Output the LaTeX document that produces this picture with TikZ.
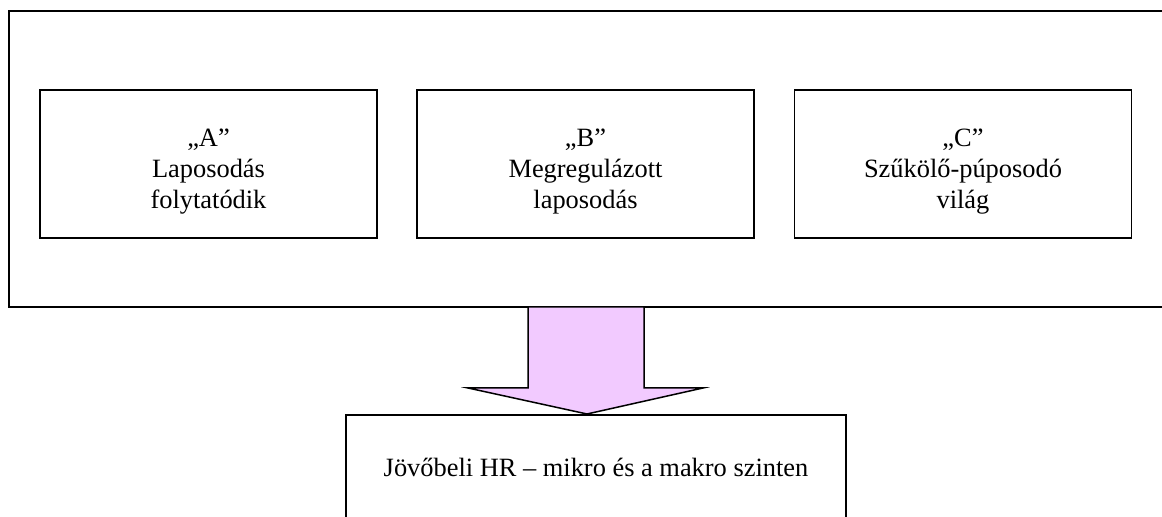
\documentclass[tikz,border=0pt]{standalone}
\usepackage{fontspec}
\setmainfont{Liberation Serif}
\definecolor{arrowpink}{RGB}{242,202,255}
\newcommand{\lowerline}{\rule{0pt}{16pt}}
\tikzset{
  scenario/.style={draw, line width=0.75pt, minimum width=168.5pt, minimum height=74pt, align=center, inner sep=0pt},
  frame/.style={draw, line width=0.7pt, minimum width=585.5pt, minimum height=148pt, inner sep=0pt},
  result/.style={draw, line width=0.75pt, minimum width=250pt, minimum height=52pt, inner sep=0pt},
  blockarrow/.style={draw, line width=0.75pt, fill=arrowpink, line join=miter}
}
\begin{document}
\begin{tikzpicture}[x=0.5pt,y=0.5pt,font=\fontsize{13.2}{15.5}\selectfont]
\useasboundingbox (0,0) rectangle (1162,517);

\node[frame] (outer) at (594.5,358) {};

\node[scenario] (scenA) at (208.5,353) {\lowerline„A”\\Laposodás\\folytatódik};
\node[scenario] (scenB) at (585.5,353) {\lowerline„B”\\Megregulázott\\laposodás};
\node[scenario] (scenC) at (963,353) {\lowerline„C”\\Szűkölő-púposodó\\világ};

\node[result] (future) at (596,50) {Jövőbeli HR – mikro és a makro szinten};

\draw[blockarrow] (528,210) -- (528,129) -- (468,129) -- (587,103)
  -- (703,129) -- (644,129) -- (644,210) -- cycle;

\end{tikzpicture}
\end{document}
